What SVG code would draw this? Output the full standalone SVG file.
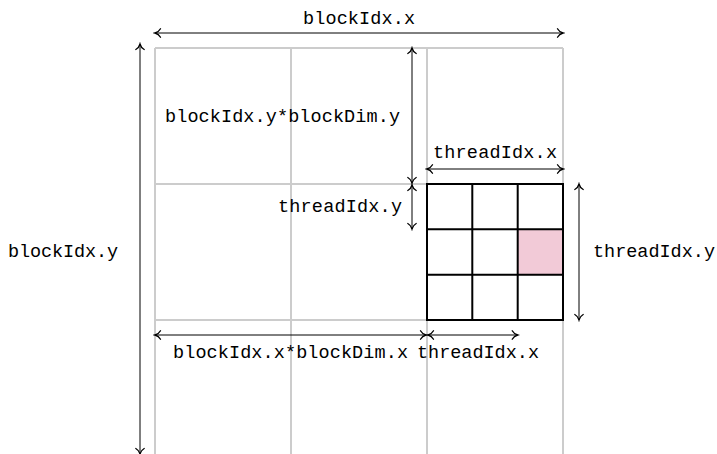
<svg xmlns="http://www.w3.org/2000/svg" width="717" height="454" viewBox="0 0 717 454">
  <style>
    .grid { stroke: #cccccc; stroke-width: 2; fill: none; }
    .blk { stroke: #000000; stroke-width: 2; fill: none; }
    .dim { stroke: #000000; stroke-width: 1; fill: none; marker-start: url(#tip); marker-end: url(#tip); }
    text { font-family: "Liberation Mono", "DejaVu Sans Mono", monospace; font-size: 18.5px; fill: #000000; }
  </style>
  <defs>
    <marker id="tip" viewBox="-7 -6 9 12" markerWidth="9" markerHeight="12" refX="0" refY="0" orient="auto-start-reverse" markerUnits="userSpaceOnUse">
      <path d="M -5.5 -4.2 C -4.2 -1.8 -1.5 -0.4 0 0 C -1.5 0.4 -4.2 1.8 -5.5 4.2" fill="none" stroke="#000" stroke-width="1.3" stroke-linecap="round"/>
    </marker>
  </defs>

  <!-- grid of blocks -->
  <g id="block-grid">
    <path class="grid" d="M155 48 V454 M291 48 V454 M427 48 V454 M563 48 V454 M155 48 H563 M155 184 H563 M155 320 H563"/>
  </g>

  <!-- one block of 3x3 threads, highlighted thread -->
  <g id="thread-block">
    <rect x="517.7" y="229.3" width="45.3" height="45.4" fill="#f2cad7"/>
    <rect class="blk" x="427" y="184" width="136" height="136"/>
    <path class="blk" d="M472.3 184 V320 M517.7 184 V320 M427 229.3 H563 M427 274.7 H563"/>
  </g>

  <!-- dimension arrows -->
  <g id="connectors">
    <line class="dim" x1="155" y1="33" x2="563" y2="33"/>
    <line class="dim" x1="140" y1="44" x2="140" y2="454"/>
    <line class="dim" x1="412" y1="48" x2="412" y2="183"/>
    <line class="dim" x1="412" y1="185" x2="412" y2="229"/>
    <line class="dim" x1="427" y1="169" x2="563" y2="169"/>
    <line class="dim" x1="579" y1="184" x2="579" y2="320"/>
    <line class="dim" x1="155" y1="335" x2="426" y2="335"/>
    <line class="dim" x1="428" y1="335" x2="517.7" y2="335"/>
  </g>

  <!-- labels -->
  <g id="labels">
    <text x="303" y="24" textLength="112">blockIdx.x</text>
    <text x="8" y="257" textLength="110">blockIdx.y</text>
    <text x="165" y="122" textLength="235">blockIdx.y*blockDim.y</text>
    <text x="278" y="212" textLength="124">threadIdx.y</text>
    <text x="433" y="158" textLength="124">threadIdx.x</text>
    <text x="593" y="257" textLength="122">threadIdx.y</text>
    <text x="173" y="358" textLength="235">blockIdx.x*blockDim.x</text>
    <text x="417" y="358" textLength="122">threadIdx.x</text>
  </g>
</svg>
